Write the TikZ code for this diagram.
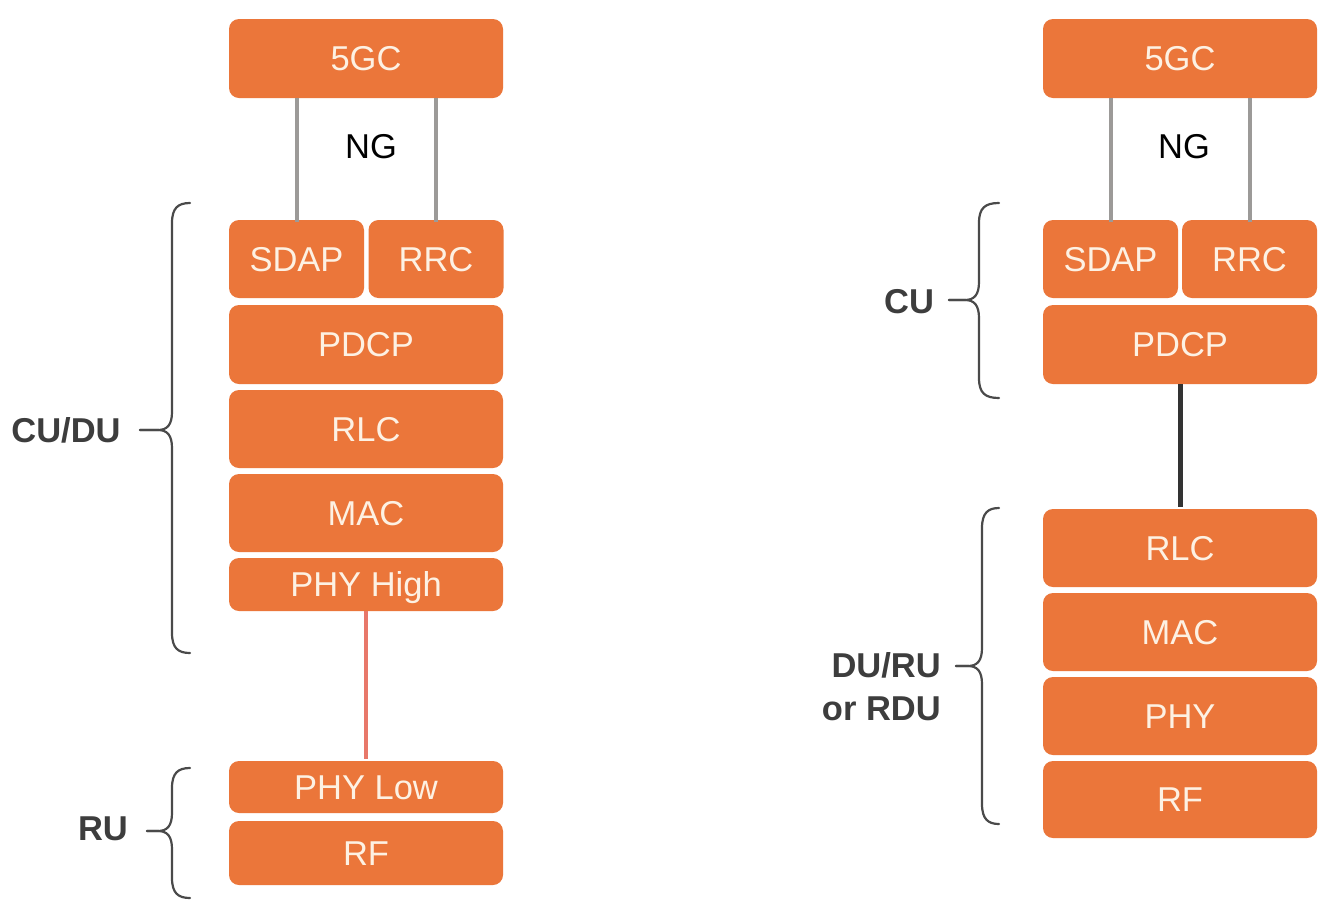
\documentclass[tikz,border=0pt]{standalone}
\usepackage{fontspec}
\setmainfont{Liberation Sans}
\definecolor{boxorange}{HTML}{EB763A}
\definecolor{boxtext}{HTML}{FDF1E3}
\definecolor{nggray}{HTML}{9C9A98}
\definecolor{fhred}{HTML}{E8786A}
\definecolor{darkline}{HTML}{333333}
\definecolor{labelgray}{HTML}{3D3D3D}
\definecolor{bracegray}{HTML}{4A4A4A}
\newcommand{\curlybr}[6]{% #1 vertical x, #2 end x, #3 top y, #4 bottom y, #5 tip x, #6 tip y
  \draw[bracestyle] (#2,#3) .. controls (#1+6,#3) and (#1,#3+5) .. (#1,#3+20)
    -- (#1,#6-18) .. controls (#1,#6-5) and (#1-5,#6) .. (#1-14,#6) -- (#5,#6);
  \draw[bracestyle] (#5,#6) -- (#1-14,#6) .. controls (#1-5,#6) and (#1,#6+5) .. (#1,#6+18)
    -- (#1,#4-20) .. controls (#1,#4-5) and (#1+6,#4) .. (#2,#4);
}
\begin{document}
\begin{tikzpicture}[x=1pt,y=-1pt,
  box/.style={fill=boxorange, rounded corners=10pt, inner sep=0pt,
    text=boxtext, font=\fontsize{34.5}{40}\selectfont, text height=24.7pt, text depth=0pt,
    minimum width=274pt},
  halfbox/.style={box, minimum width=135pt},
  lbl/.style={text=labelgray, font=\fontsize{34.5}{43}\selectfont\bfseries, inner sep=0pt},
  ngline/.style={draw=nggray, line width=4pt},
  bracestyle/.style={draw=bracegray, line width=2.2pt, line cap=round}
]
\useasboundingbox (0,0) rectangle (1334,914);
\fill[white] (0,0) rectangle (1334,914);

% ---------- left stack ----------
\node[box, minimum height=79pt] (l5gc) at (366,58.5) {5GC};
\node[halfbox, minimum height=78pt] (lsdap) at (296.5,259) {SDAP};
\node[halfbox, minimum height=78pt] (lrrc) at (436,259) {RRC};
\node[box, minimum height=79pt] (lpdcp) at (366,344.5) {PDCP};
\node[box, minimum height=78pt] (lrlc) at (366,429) {RLC};
\node[box, minimum height=78pt] (lmac) at (366,513) {MAC};
\node[box, minimum height=53pt] (lphyh) at (366,584.5) {PHY High};
\node[box, minimum height=52pt] (lphyl) at (366,787) {PHY Low};
\node[box, minimum height=64pt] (lrf) at (366,853) {RF};

\node[text=black, font=\fontsize{34.5}{40}\selectfont, inner sep=0pt] (lng) at (371,147) {NG};
\draw[ngline] ([yshift=-2pt]lsdap.north) -- (lsdap.north |- l5gc.south);
\draw[ngline] ([yshift=-2pt]lrrc.north) -- (lrrc.north |- l5gc.south);
\draw[draw=fhred, line width=4pt] (lphyh.south) -- ([yshift=2pt]lphyl.north);

\node[lbl] (lcudu) at (66,430) {CU/DU};
\node[lbl] (lru) at (103,829) {RU};
\curlybr{172}{190}{203}{653}{140}{430}
\curlybr{172}{190}{768}{898}{147}{831}

% ---------- right stack ----------
\node[box, minimum height=79pt] (r5gc) at (1180,58.5) {5GC};
\node[halfbox, minimum height=78pt] (rsdap) at (1110.5,259) {SDAP};
\node[halfbox, minimum height=78pt] (rrrc) at (1249.5,259) {RRC};
\node[box, minimum height=79pt] (rpdcp) at (1180,344.5) {PDCP};
\node[box, minimum height=78pt] (rrlc) at (1180,548) {RLC};
\node[box, minimum height=78pt] (rmac) at (1180,632) {MAC};
\node[box, minimum height=78pt] (rphy) at (1180,716) {PHY};
\node[box, minimum height=77pt] (rrf) at (1180,799.5) {RF};

\node[text=black, font=\fontsize{34.5}{40}\selectfont, inner sep=0pt] (rng) at (1184,147) {NG};
\draw[ngline] ([yshift=-2pt]rsdap.north) -- (rsdap.north |- r5gc.south);
\draw[ngline] ([yshift=-2pt]rrrc.north) -- (rrrc.north |- r5gc.south);
\draw[draw=darkline, line width=5pt] (rpdcp.south) -- ([yshift=2pt]rrlc.north);

\node[lbl] (rcu) at (909,302) {CU};
\node[lbl, align=right, anchor=east] (rduru) at (941,687) {DU/RU\\or RDU};
\curlybr{979}{999}{203}{398}{949}{300}
\curlybr{982}{999}{508}{824}{956}{666}
\end{tikzpicture}
\end{document}
